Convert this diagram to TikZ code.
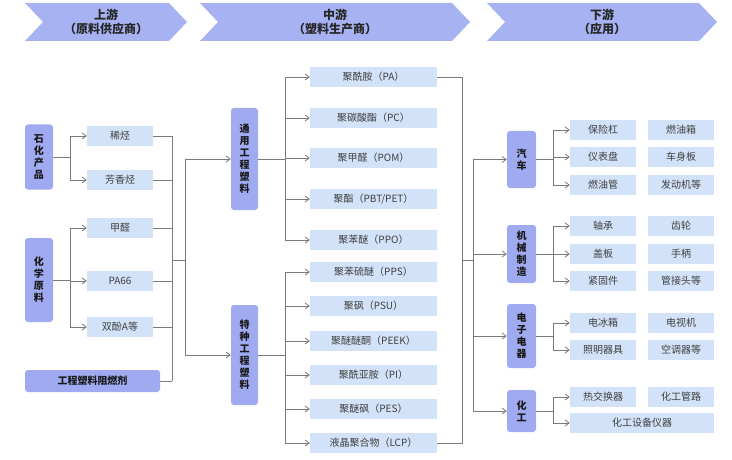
\documentclass[tikz,border=0pt]{standalone}
\usepackage{fontspec}
\setmainfont{Noto Sans CJK SC}
\usetikzlibrary{arrows.meta}
\definecolor{hdr}{HTML}{A6B2F2}
\definecolor{cat}{HTML}{9FAAF0}
\definecolor{itm}{HTML}{D2E2F8}
\definecolor{ln}{HTML}{7A7A7A}
\begin{document}
\begin{tikzpicture}[x=1pt,y=-1pt,
 it/.style={fill=itm,minimum height=20pt,inner sep=0pt,font=\fontsize{10}{12}\selectfont,text=black!75},
 ca/.style={fill=cat,rounded corners=3pt,inner sep=0pt,font=\bfseries\fontsize{10}{12}\selectfont,align=center,text=black!90},
 ar/.style={draw=ln,line width=0.8pt,-{Straight Barb[length=4pt,width=6pt]}},
 li/.style={draw=ln,line width=0.8pt}]
\useasboundingbox (0,0) rectangle (732,460);
% headers
\foreach \a/\b/\n/\t/\s in {25/187/h1/上游/（原料供应商）,200/470/h2/中游/（塑料生产商）,487/717/h3/下游/（应用）}{
 \fill[hdr] (\a,3) -- (\b-18,3) -- (\b,22) -- (\b-18,41) -- (\a,41) -- (\a+18,22) -- cycle;
 \node[font=\bfseries\fontsize{12}{14}\selectfont,align=center,text=black!85] (\n) at ({(\a+\b)/2},22) {\t\\\s};
}
% upstream
\node[ca,minimum width=28pt,minimum height=65pt] (sh) at (39,157) {石\\化\\产\\品};
\node[ca,minimum width=28pt,minimum height=84pt] (hx) at (39,280) {化\\学\\原\\料};
\node[ca,minimum width=135pt,minimum height=22pt] (zr) at (92.5,381) {工程塑料阻燃剂};
\node[it,minimum width=66pt] (u1) at (120,136) {稀烃};
\node[it,minimum width=66pt] (u2) at (120,180) {芳香烃};
\node[it,minimum width=66pt] (u3) at (120,228) {甲醛};
\node[it,minimum width=66pt] (u4) at (120,281) {PA66};
\node[it,minimum width=66pt] (u5) at (120,327) {双酚A等};
\draw[li] (sh.east) -- (70,157);
\draw[ar] (70,157) |- (u1.west); \draw[ar] (70,157) |- (u2.west);
\draw[li] (hx.east) -- (70,280);
\draw[ar] (70,280) |- (u3.west); \draw[ar] (70,280) |- (u4.west); \draw[ar] (70,280) |- (u5.west);
\foreach \u in {u1,u2,u3,u4,u5} \draw[li] (\u.east) -- (172,0|-\u.east);
\draw[li] (zr.east) -- (172,381);
\draw[li] (172,136) -- (172,381);
% midstream
\node[ca,minimum width=27pt,minimum height=102pt] (ty) at (244.5,159) {通\\用\\工\\程\\塑\\料};
\node[ca,minimum width=27pt,minimum height=100pt] (tz) at (244.5,355) {特\\种\\工\\程\\塑\\料};
\draw[li] (172,260) -- (185,260);
\draw[ar] (185,260) |- (ty.west); \draw[ar] (185,260) |- (tz.west);
\foreach \n/\y/\t in {m1/77/聚酰胺（PA）,m2/118/聚碳酸酯（PC）,m3/158/聚甲醛（POM）,m4/199/{聚酯（PBT/PET）},m5/240/聚苯醚（PPO）,m6/272/聚苯硫醚（PPS）,m7/306/聚砜（PSU）,m8/341/聚醚醚酮（PEEK）,m9/375/聚酰亚胺（PI）,m10/409/聚醚砜（PES）,m11/443/液晶聚合物（LCP）}
 \node[it,minimum width=127pt] (\n) at (373.5,\y) {\t};
\draw[li] (ty.east) -- (285,159);
\foreach \n in {m1,m2,m3,m4,m5} \draw[ar] (285,159) |- (\n.west);
\draw[li] (tz.east) -- (285,355);
\foreach \n in {m6,m7,m8,m9,m10,m11} \draw[ar] (285,355) |- (\n.west);
\draw[li] (m1.east) -- (462,77) -- (462,443) -- (m11.east);
% downstream
\node[ca,minimum width=29pt,minimum height=57pt] (qc) at (521.5,159.5) {汽\\车};
\node[ca,minimum width=29pt,minimum height=58pt] (jx) at (521.5,254) {机\\械\\制\\造};
\node[ca,minimum width=29pt,minimum height=64pt] (dz) at (521.5,336) {电\\子\\电\\器};
\node[ca,minimum width=29pt,minimum height=42pt] (hg) at (521.5,411) {化\\工};
\draw[li] (462,260) -- (473,260);
\foreach \n in {qc,jx,dz,hg} \draw[ar] (473,260) |- (\n.west);
\foreach \n/\y/\a/\b in {q1/130/保险杠/燃油箱,q2/157/仪表盘/车身板,q3/185/燃油管/发动机等,j1/226/轴承/齿轮,j2/254/盖板/手柄,j3/281/紧固件/管接头等,d1/323/电冰箱/电视机,d2/350/照明器具/空调器等,h1/397/热交换器/化工管路}{
 \node[it,minimum width=66pt] (\n) at (603,\y) {\a};
 \node[it,minimum width=66pt] (\n b) at (681,\y) {\b};}
\node[it,minimum width=144pt] (h2) at (642,423) {化工设备仪器};
\draw[li] (qc.east) -- (553,159.5);
\foreach \n in {q1,q2,q3} \draw[ar] (553,159.5) |- (\n.west);
\draw[li] (jx.east) -- (553,254);
\foreach \n in {j1,j2,j3} \draw[ar] (553,254) |- (\n.west);
\draw[li] (dz.east) -- (553,336);
\foreach \n in {d1,d2} \draw[ar] (553,336) |- (\n.west);
\draw[li] (hg.east) -- (553,411);
\foreach \n in {h1,h2} \draw[ar] (553,411) |- (\n.west);
\end{tikzpicture}
\end{document}
